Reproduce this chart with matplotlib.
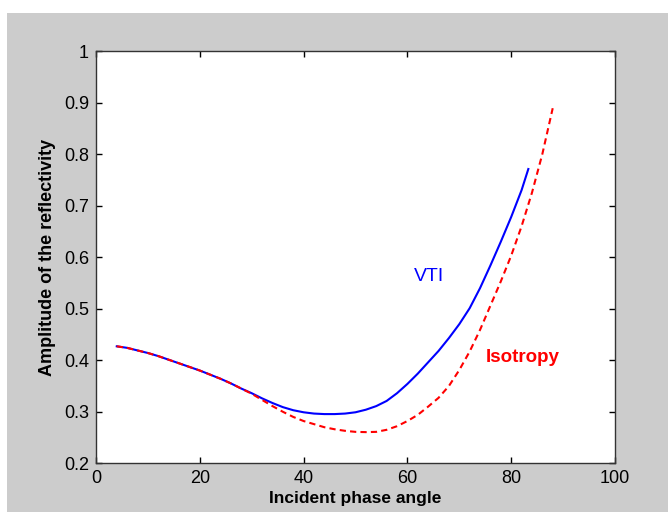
import matplotlib
matplotlib.use('Agg')
import matplotlib.pyplot as plt
from matplotlib.patches import Rectangle

plt.rcParams['font.family'] = ['Liberation Sans', 'DejaVu Sans']

# VTI curve (blue, solid)
vti_x = [4, 6, 8, 10, 12, 14, 16, 18, 20, 22, 24, 26, 28, 30, 32, 34, 36, 38,
         40, 42, 44, 46, 48, 50, 52, 54, 56, 58, 60, 62, 64, 66, 68, 70, 72,
         74, 76, 78, 80, 82, 83.3]
vti_y = [0.427, 0.424, 0.419, 0.414, 0.408, 0.401, 0.394, 0.387, 0.380, 0.372,
         0.364, 0.355, 0.345, 0.336, 0.326, 0.317, 0.309, 0.303, 0.299, 0.2965,
         0.2955, 0.2955, 0.2965, 0.299, 0.304, 0.311, 0.321, 0.336, 0.354, 0.374,
         0.396, 0.418, 0.443, 0.470, 0.501, 0.540, 0.584, 0.630, 0.678, 0.730,
         0.771]

# Isotropy curve (red, dashed)
iso_x = [4, 6, 8, 10, 12, 14, 16, 18, 20, 22, 24, 26, 28, 30, 32, 34, 36, 38,
         40, 42, 44, 46, 48, 50, 52, 54, 56, 58, 60, 62, 64, 66, 68, 70, 72,
         74, 76, 78, 80, 82, 84, 86, 88]
iso_y = [0.427, 0.424, 0.419, 0.414, 0.408, 0.401, 0.394, 0.387, 0.380, 0.372,
         0.364, 0.355, 0.345, 0.335, 0.323, 0.311, 0.300, 0.290, 0.282, 0.276,
         0.270, 0.266, 0.263, 0.261, 0.2605, 0.261, 0.265, 0.272, 0.282, 0.294,
         0.310, 0.327, 0.350, 0.381, 0.417, 0.459, 0.506, 0.553, 0.603, 0.660,
         0.725, 0.800, 0.889]

xticks = [0, 20, 40, 60, 80, 100]
yticks = [0.2, 0.3, 0.4, 0.5, 0.6, 0.7, 0.8, 0.9, 1]
ytick_labels = ['0.2', '0.3', '0.4', '0.5', '0.6', '0.7', '0.8', '0.9', '1']

fig = plt.figure(figsize=(6.68, 5.12), dpi=100, facecolor='white')
# grey matlab figure window (white strip on top and left)
fig.patches.append(Rectangle((7 / 668, 0), 1, 1 - 13 / 512, transform=fig.transFigure,
                             facecolor='#cccccc', edgecolor='none', zorder=-10))

ax = fig.add_axes([96 / 668, (512 - 463.3) / 512, (615 - 96) / 668, (463.3 - 51) / 512])
ax.set_facecolor('white')

ax.plot(vti_x, vti_y, color='#0000ff', linewidth=1.5)
ax.plot(iso_x, iso_y, color='#ff0000', linewidth=1.5, linestyle=(0, (3, 2)))

ax.text(61.2, 0.562, 'VTI', color='#0000ff', fontsize=14, va='center', ha='left')
ax.text(75.0, 0.405, 'Isotropy', color='#ff0000', fontsize=13.5, fontweight='bold',
        va='center', ha='left')

ax.set_xlim(0, 100)
ax.set_ylim(0.2, 1)
ax.set_xticks(xticks)
ax.set_yticks(yticks)
ax.set_yticklabels(ytick_labels)
ax.tick_params(direction='in', length=4, width=1, top=True, right=True,
               labelsize=13, pad=5)
for s in ax.spines.values():
    s.set_color('#333333')
    s.set_linewidth(1)

ax.set_xlabel('Incident phase angle', fontsize=12.5, fontweight='bold', labelpad=3)
ax.set_ylabel('Amplitude of the reflectivity', fontsize=13, fontweight='bold', labelpad=6)

fig.savefig('out.png', dpi=100, facecolor=fig.get_facecolor())
